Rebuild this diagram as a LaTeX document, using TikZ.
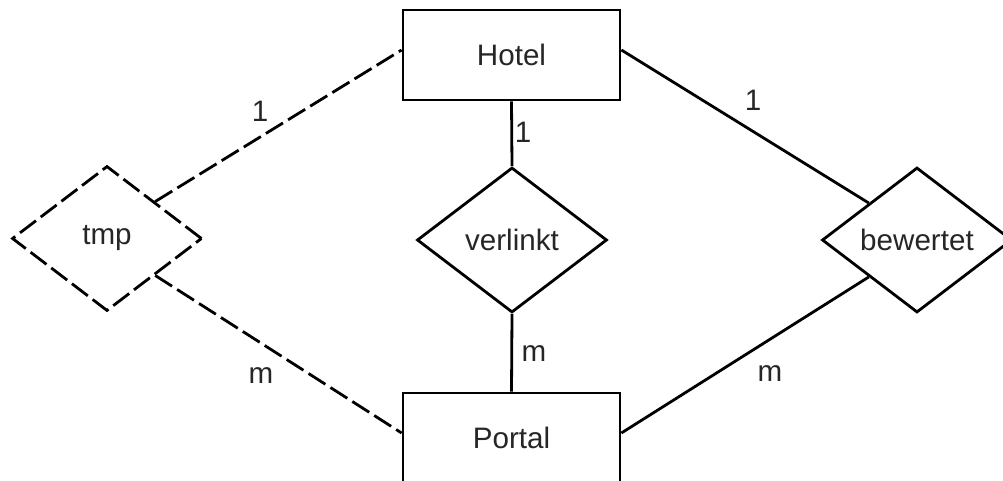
\documentclass[tikz,border=0pt]{standalone}
\usepackage{fontspec}
\setmainfont{Liberation Sans}
\usetikzlibrary{shapes.geometric}
\begin{document}
\begin{tikzpicture}[x=0.75pt,y=-0.75pt,
  every node/.style={font=\fontsize{22.2}{26}\selectfont, text=black!85},
  entity/.style={draw=black, line width=2.1pt, rectangle, minimum width=162.75pt, minimum height=67.5pt, inner sep=0pt},
  rel/.style={draw=black, line width=2.1pt, diamond, minimum width=142.5pt, minimum height=108.75pt, inner sep=0pt},
  dashedrel/.style={rel, dash pattern=on 15pt off 4.5pt},
  link/.style={draw=black, line width=2.1pt},
  dashedlink/.style={link, dash pattern=on 15pt off 4.5pt},
  lab/.style={inner sep=0pt}]
\useasboundingbox (0,0) rectangle (1003,481);
\node[entity] (hotel) at (511.5,55) {Hotel};
\node[entity] (portal) at (511.5,438) {Portal};
\node[dashedrel] (tmp) at (107,238.5) {tmp};
\node[rel] (verlinkt) at (512,240) {verlinkt};
\node[rel] (bewertet) at (917,240) {bewertet};
\draw[dashedlink] (tmp.north east) -- ([yshift=3.75pt]hotel.west);
\draw[dashedlink] (tmp.south east) -- ([yshift=3.75pt]portal.west);
\draw[link] (hotel.south) -- (verlinkt.north);
\draw[link] (verlinkt.south) -- (portal.north);
\draw[link] ([yshift=3.75pt]hotel.east) -- (bewertet.north west);
\draw[link] (bewertet.south west) -- ([yshift=3.75pt]portal.east);
\node[lab] (l1) at (260,111) {1};
\node[lab] (l2) at (523,132) {1};
\node[lab] (l3) at (753,100) {1};
\node[lab] (l4) at (261,376) {m};
\node[lab] (l5) at (534,354) {m};
\node[lab] (l6) at (770,374) {m};
\end{tikzpicture}
\end{document}
